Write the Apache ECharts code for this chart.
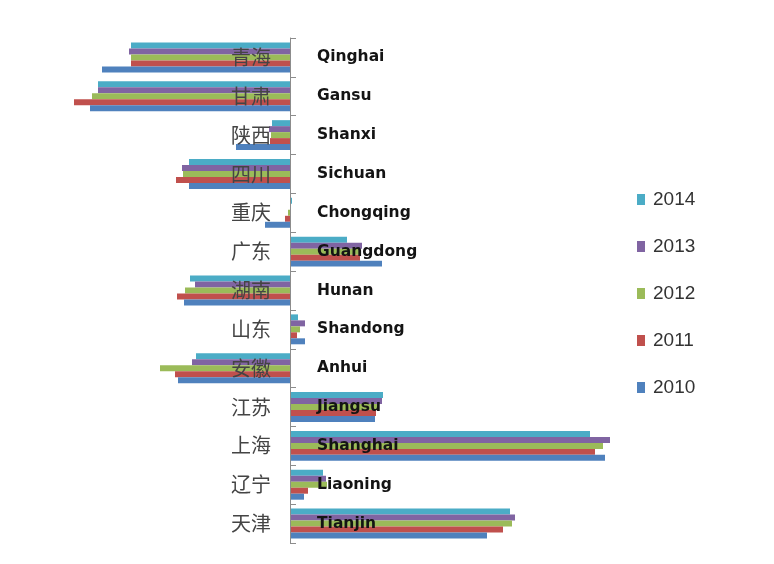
<!DOCTYPE html>
<html>
<head>
<meta charset="utf-8">
<style>
  html, body { margin: 0; padding: 0; background: #ffffff; }
  #chart { width: 774px; height: 564px; }
</style>
<script src="https://cdn.jsdelivr.net/npm/echarts@6/dist/echarts.min.js"></script>
</head>
<body>
<div id="chart"></div>
<script>
// Provinces, listed bottom to top as they stack on the category axis
const provincesZh = ['天津', '辽宁', '上海', '江苏', '安徽', '山东', '湖南', '广东', '重庆', '四川', '陕西', '甘肃', '青海'];
const provincesEn = ['Tianjin', 'Liaoning', 'Shanghai', 'Jiangsu', 'Anhui', 'Shandong', 'Hunan', 'Guangdong', 'Chongqing', 'Sichuan', 'Shanxi', 'Gansu', 'Qinghai'];

const years = ['2010', '2011', '2012', '2013', '2014'];

const values2010 = [19.7, 1.4, 31.5, 8.5, -11.2, 1.5, -10.6, 9.2, -2.5, -10.1, -5.4, -20.0, -18.8];
const values2011 = [21.3, 1.8, 30.5, 8.6, -11.5, 0.7, -11.3, 7.0, -0.5, -11.4, -2.0, -21.6, -15.9];
const values2012 = [22.2, 3.7, 31.3, 8.8, -13.0, 1.0, -10.5, 7.0, -0.2, -10.7, -1.9, -19.8, -15.9];
const values2013 = [22.5, 3.6, 32.0, 9.2, -9.8, 1.5, -9.5, 7.2, 0.1, -10.8, -2.1, -19.2, -16.1];
const values2014 = [22.0, 3.3, 30.0, 9.3, -9.4, 0.8, -10.0, 5.7, 0.2, -10.1, -1.8, -19.2, -15.9];

const seriesValues = {
  '2010': values2010,
  '2011': values2011,
  '2012': values2012,
  '2013': values2013,
  '2014': values2014
};
const yearColors = {
  '2010': '#4f81bd',
  '2011': '#c0504d',
  '2012': '#9bbb59',
  '2013': '#8064a2',
  '2014': '#4bacc6'
};

// value-axis range; the category axes sit at value 0
const xMin = -24;
const xMax = 36;
const gridLeft = 50;
const gridWidth = 600;
const zeroOffset = gridWidth * (0 - xMin) / (xMax - xMin);

// newest year is listed first so it sits at the top of each group
const stackOrder = years.slice().reverse();

const chart = echarts.init(document.getElementById('chart'), null, { renderer: 'canvas' });

chart.setOption({
  animation: false,
  backgroundColor: '#ffffff',
  grid: {
    left: gridLeft, width: gridWidth, top: 38, bottom: 21,
    containLabel: false, outerBoundsMode: 'none'
  },
  legend: {
    orient: 'vertical',
    left: 637,
    top: 190,
    padding: 0,
    itemWidth: 8,
    itemHeight: 11,
    itemGap: 28,
    icon: 'rect',
    data: stackOrder,
    textStyle: { fontFamily: 'Liberation Sans', fontSize: 19, color: '#333333', padding: [0, 0, 0, 3] }
  },
  xAxis: {
    type: 'value',
    min: xMin,
    max: xMax,
    show: false
  },
  yAxis: [
    {
      type: 'category',
      data: provincesZh,
      position: 'left',
      offset: -zeroOffset,
      z: 5,
      axisLine: { onZero: false, lineStyle: { color: '#8c8c8c', width: 1 } },
      axisTick: { show: true, inside: true, length: 6, lineStyle: { color: '#8c8c8c' } },
      axisLabel: {
        margin: 19,
        fontFamily: 'Noto Sans CJK SC',
        fontSize: 20,
        color: '#444444',
        padding: [6, 0, 0, 0]
      },
      splitLine: { show: false }
    },
    {
      type: 'category',
      data: provincesEn,
      position: 'left',
      offset: -zeroOffset,
      z: 6,
      axisLine: { show: false, onZero: false },
      axisTick: { show: false },
      axisLabel: {
        inside: true,
        margin: 27,
        fontFamily: 'DejaVu Sans',
        fontWeight: 'bold',
        fontSize: 15.5,
        color: '#141414',
        padding: [7, 0, 0, 0]
      },
      splitLine: { show: false }
    }
  ],
  series: stackOrder.map((year) => ({
    name: year,
    type: 'bar',
    yAxisIndex: 0,
    data: seriesValues[year],
    barGap: '0%',
    barCategoryGap: '23%',
    itemStyle: { color: yearColors[year] }
  }))
});
</script>
</body>
</html>
